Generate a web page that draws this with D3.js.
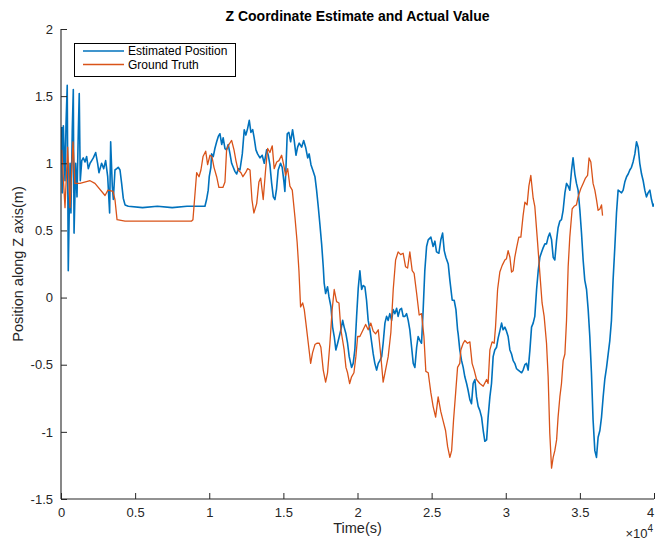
<!DOCTYPE html>
<html>
<head>
<meta charset="utf-8">
<script src="https://cdn.jsdelivr.net/npm/d3@7"></script>
<style>
  html, body { margin: 0; padding: 0; background: #fff; }
  svg { display: block; font-family: "Liberation Sans", Arial, Helvetica, sans-serif; }
</style>
</head>
<body>
<svg id="chart" width="655" height="542"></svg>
<script>
// ---- data (time in units of 10^4 s, position in m) ----
const titleText = "Z Coordinate Estimate and Actual Value";
const xLabel = "Time(s)";
const yLabel = "Position along Z axis(m)";
const seriesNames = ["Estimated Position", "Ground Truth"];
const xTicks = [0, 0.5, 1, 1.5, 2, 2.5, 3, 3.5, 4];
const yTicks = [-1.5, -1, -0.5, 0, 0.5, 1, 1.5, 2];
const xExponent = 4;

const estimated = [
[0.005,1.27],[0.009,0.78],[0.016,1.28],[0.027,0.87],[0.034,1.30],[0.042,1.58],[0.049,0.20],[0.061,1.00],
[0.067,0.63],[0.076,1.25],[0.083,1.55],[0.088,0.48],[0.099,1.00],[0.108,0.75],[0.117,1.25],[0.123,1.52],
[0.130,0.87],[0.140,1.02],[0.150,1.04],[0.162,1.01],[0.173,1.05],[0.184,0.96],[0.196,1.00],[0.207,1.02],
[0.218,1.04],[0.234,1.08],[0.247,1.00],[0.256,0.93],[0.274,1.00],[0.288,0.96],[0.301,1.02],[0.315,0.90],
[0.328,0.63],[0.335,1.16],[0.346,0.83],[0.353,0.73],[0.364,0.95],[0.376,0.96],[0.386,0.97],[0.398,0.95],
[0.409,0.85],[0.420,0.74],[0.432,0.69],[0.454,0.68],[0.55,0.67],[0.65,0.68],[0.75,0.67],[0.85,0.68],
[0.971,0.68],[0.982,0.73],[0.993,0.80],[1.000,0.90],[1.011,0.97],[1.016,1.07],[1.027,1.05],[1.038,1.11],
[1.050,1.16],[1.061,1.20],[1.072,1.22],[1.084,1.14],[1.094,1.19],[1.106,1.11],[1.117,1.10],[1.128,1.14],
[1.140,1.07],[1.151,1.00],[1.162,0.97],[1.173,0.94],[1.185,0.92],[1.196,0.96],[1.207,0.95],[1.223,1.07],
[1.236,1.25],[1.247,1.21],[1.259,1.26],[1.270,1.32],[1.281,1.23],[1.293,1.25],[1.303,1.19],[1.315,1.10],
[1.326,1.07],[1.342,1.04],[1.357,1.06],[1.371,1.00],[1.387,1.10],[1.398,1.06],[1.409,0.99],[1.421,0.85],
[1.432,0.75],[1.443,0.73],[1.454,0.81],[1.465,0.95],[1.481,1.00],[1.492,0.97],[1.504,0.86],[1.510,0.79],
[1.517,0.95],[1.526,1.22],[1.537,1.23],[1.549,1.16],[1.562,1.25],[1.573,1.17],[1.585,1.06],[1.596,1.12],
[1.607,1.15],[1.623,1.12],[1.637,1.17],[1.650,1.12],[1.664,1.04],[1.674,1.07],[1.686,0.99],[1.701,0.94],
[1.713,0.90],[1.724,0.80],[1.735,0.68],[1.746,0.55],[1.758,0.40],[1.769,0.23],[1.775,0.11],[1.785,0.03],
[1.798,0.08],[1.807,0.01],[1.821,-0.07],[1.832,-0.22],[1.843,-0.29],[1.854,-0.39],[1.866,-0.34],[1.877,-0.29],
[1.888,-0.24],[1.900,-0.17],[1.910,-0.22],[1.922,-0.27],[1.933,-0.34],[1.944,-0.44],[1.960,-0.52],[1.971,-0.49],
[1.982,-0.39],[1.994,-0.14],[2.005,0.07],[2.016,0.20],[2.028,0.06],[2.038,0.09],[2.050,0.08],[2.061,-0.02],
[2.072,-0.17],[2.084,-0.24],[2.095,-0.33],[2.106,-0.42],[2.117,-0.49],[2.129,-0.54],[2.140,-0.49],[2.151,-0.47],
[2.163,-0.44],[2.173,-0.34],[2.185,-0.19],[2.196,-0.14],[2.207,-0.17],[2.218,-0.12],[2.230,-0.17],[2.241,-0.09],
[2.252,-0.12],[2.264,-0.08],[2.274,-0.14],[2.286,-0.09],[2.297,-0.08],[2.308,-0.14],[2.320,-0.14],[2.331,-0.12],
[2.342,-0.17],[2.353,-0.24],[2.365,-0.37],[2.376,-0.49],[2.387,-0.52],[2.399,-0.37],[2.409,-0.29],[2.421,-0.32],
[2.432,-0.34],[2.443,-0.09],[2.454,0.20],[2.466,0.38],[2.477,0.43],[2.495,0.45],[2.510,0.38],[2.522,0.42],
[2.533,0.34],[2.549,0.33],[2.562,0.43],[2.574,0.48],[2.585,0.35],[2.596,0.30],[2.612,0.25],[2.623,0.13],
[2.639,-0.02],[2.652,-0.02],[2.664,-0.09],[2.675,-0.24],[2.679,-0.27],[2.690,-0.39],[2.702,-0.47],[2.713,-0.52],
[2.724,-0.59],[2.736,-0.64],[2.746,-0.69],[2.758,-0.76],[2.769,-0.79],[2.780,-0.64],[2.792,-0.61],[2.803,-0.74],
[2.814,-0.81],[2.825,-0.84],[2.837,-0.89],[2.848,-0.99],[2.859,-1.07],[2.871,-1.06],[2.881,-0.89],[2.893,-0.74],
[2.904,-0.64],[2.915,-0.44],[2.926,-0.39],[2.938,-0.37],[2.949,-0.30],[2.960,-0.25],[2.972,-0.19],[2.982,-0.24],
[2.994,-0.22],[3.005,-0.25],[3.016,-0.29],[3.028,-0.39],[3.039,-0.42],[3.050,-0.47],[3.061,-0.49],[3.073,-0.53],
[3.084,-0.54],[3.095,-0.55],[3.107,-0.56],[3.117,-0.54],[3.129,-0.50],[3.140,-0.49],[3.151,-0.54],[3.163,-0.39],
[3.174,-0.22],[3.185,-0.19],[3.196,-0.14],[3.208,0.06],[3.219,0.20],[3.230,0.30],[3.242,0.34],[3.252,0.37],
[3.264,0.40],[3.275,0.40],[3.286,0.45],[3.297,0.48],[3.309,0.43],[3.320,0.30],[3.331,0.28],[3.343,0.43],
[3.353,0.52],[3.365,0.57],[3.376,0.58],[3.387,0.65],[3.399,0.78],[3.410,0.85],[3.421,0.83],[3.432,0.80],
[3.444,0.95],[3.454,1.04],[3.466,0.92],[3.477,0.85],[3.488,0.80],[3.500,0.65],[3.511,0.48],[3.522,0.28],
[3.533,0.13],[3.545,0.06],[3.556,-0.09],[3.567,-0.29],[3.578,-0.56],[3.589,-0.91],[3.601,-1.14],[3.612,-1.19],
[3.623,-1.04],[3.635,-0.99],[3.646,-0.89],[3.657,-0.74],[3.668,-0.61],[3.680,-0.52],[3.691,-0.42],[3.702,-0.32],
[3.713,-0.17],[3.724,0.13],[3.736,0.38],[3.747,0.63],[3.758,0.80],[3.769,0.79],[3.781,0.78],[3.792,0.80],
[3.803,0.86],[3.815,0.90],[3.826,0.92],[3.837,0.95],[3.848,0.97],[3.859,1.01],[3.871,1.07],[3.882,1.16],
[3.893,1.12],[3.904,1.00],[3.916,0.92],[3.927,0.87],[3.938,0.80],[3.949,0.75],[3.960,0.78],[3.972,0.80],
[3.983,0.73],[3.994,0.68],[3.999,0.70]
];

const groundTruth = [
[0.005,1.10],[0.027,0.67],[0.045,1.12],[0.061,0.67],[0.081,1.16],[0.094,0.85],[0.106,0.85],[0.128,0.85],
[0.196,0.87],[0.229,0.85],[0.297,0.76],[0.317,0.80],[0.351,0.79],[0.364,0.73],[0.378,0.58],[0.432,0.57],
[0.55,0.57],[0.70,0.57],[0.881,0.57],[0.890,0.58],[0.915,0.93],[0.931,0.90],[0.944,0.95],[0.958,1.05],
[0.976,1.09],[0.989,0.99],[1.005,1.06],[1.018,1.05],[1.032,0.97],[1.050,0.90],[1.065,0.82],[1.092,0.82],
[1.106,0.86],[1.117,1.10],[1.133,1.14],[1.151,1.17],[1.167,1.10],[1.180,1.02],[1.194,0.95],[1.214,0.93],
[1.227,0.90],[1.245,0.93],[1.259,0.96],[1.275,0.95],[1.288,0.73],[1.301,0.63],[1.320,0.70],[1.335,0.86],
[1.347,0.89],[1.364,0.73],[1.380,0.95],[1.394,1.11],[1.409,1.08],[1.425,1.13],[1.438,0.96],[1.455,1.01],
[1.470,1.02],[1.488,1.06],[1.502,0.99],[1.515,0.91],[1.529,0.96],[1.544,0.83],[1.560,0.80],[1.578,0.60],
[1.593,0.41],[1.605,0.20],[1.616,-0.07],[1.630,-0.04],[1.641,-0.09],[1.652,-0.19],[1.668,-0.34],[1.684,-0.49],
[1.697,-0.41],[1.713,-0.35],[1.726,-0.34],[1.742,-0.34],[1.753,-0.37],[1.769,-0.54],[1.785,-0.63],[1.798,-0.56],
[1.814,-0.34],[1.829,-0.09],[1.843,0.06],[1.859,-0.03],[1.875,-0.04],[1.888,-0.24],[1.900,-0.32],[1.910,-0.39],
[1.922,-0.52],[1.933,-0.56],[1.947,-0.64],[1.960,-0.59],[1.976,-0.56],[1.989,-0.44],[2.001,-0.29],[2.016,-0.29],
[2.038,-0.24],[2.055,-0.20],[2.072,-0.24],[2.090,-0.19],[2.106,-0.25],[2.122,-0.27],[2.140,-0.24],[2.156,-0.42],
[2.173,-0.63],[2.189,-0.54],[2.207,-0.44],[2.225,-0.26],[2.241,0.06],[2.257,0.28],[2.274,0.34],[2.291,0.32],
[2.308,0.33],[2.324,0.23],[2.338,0.22],[2.353,0.34],[2.369,0.20],[2.382,0.18],[2.399,0.03],[2.416,-0.13],
[2.432,-0.12],[2.448,-0.29],[2.461,-0.55],[2.477,-0.56],[2.495,-0.71],[2.510,-0.81],[2.527,-0.89],[2.544,-0.74],
[2.562,-0.85],[2.578,-0.92],[2.594,-0.99],[2.608,-1.11],[2.623,-1.19],[2.635,-1.14],[2.648,-0.91],[2.662,-0.71],
[2.675,-0.52],[2.690,-0.49],[2.697,-0.39],[2.713,-0.34],[2.724,-0.32],[2.742,-0.34],[2.758,-0.33],[2.773,-0.49],
[2.787,-0.54],[2.803,-0.61],[2.825,-0.64],[2.848,-0.66],[2.871,-0.61],[2.881,-0.64],[2.893,-0.39],[2.908,-0.33],
[2.922,-0.34],[2.931,-0.22],[2.945,0.06],[2.960,0.19],[2.976,0.24],[2.994,0.28],[3.005,0.29],[3.016,0.35],
[3.028,0.30],[3.039,0.19],[3.050,0.20],[3.061,0.30],[3.073,0.37],[3.088,0.45],[3.102,0.45],[3.117,0.61],
[3.129,0.71],[3.144,0.69],[3.156,0.83],[3.169,0.91],[3.185,0.74],[3.196,0.68],[3.212,0.45],[3.230,0.18],
[3.245,-0.04],[3.259,-0.14],[3.275,-0.34],[3.286,-0.59],[3.297,-1.01],[3.309,-1.27],[3.320,-1.19],[3.331,-1.14],
[3.343,-1.06],[3.353,-0.89],[3.365,-0.74],[3.376,-0.64],[3.387,-0.47],[3.399,-0.42],[3.410,-0.17],[3.421,0.23],
[3.432,0.45],[3.448,0.66],[3.461,0.68],[3.477,0.69],[3.488,0.75],[3.506,0.81],[3.522,0.85],[3.538,0.89],
[3.552,0.91],[3.562,1.04],[3.574,1.01],[3.589,0.85],[3.601,0.80],[3.612,0.73],[3.623,0.65],[3.635,0.66],
[3.646,0.69],[3.653,0.61]
];

const colors = ["#0072BD", "#D95319"];

// ---- layout ----
const svg = d3.select("#chart");
const W = 655, H = 542;
const m = { left: 61, top: 29, right: 1, bottom: 43 };
const pw = W - m.left - m.right, ph = H - m.top - m.bottom;
const axisColor = "#262626";

const x = d3.scaleLinear().domain([0, 4]).range([m.left, m.left + pw]);
const y = d3.scaleLinear().domain([-1.5, 2]).range([m.top + ph, m.top]);

svg.append("defs").append("clipPath").attr("id", "clip")
  .append("rect").attr("x", m.left).attr("y", m.top).attr("width", pw).attr("height", ph);

const line = d3.line().x(d => x(d[0])).y(d => y(d[1]));
const plot = svg.append("g").attr("clip-path", "url(#clip)");
plot.append("path").datum(estimated)
  .attr("fill", "none").attr("stroke", colors[0]).attr("stroke-width", 1.6)
  .attr("stroke-linejoin", "round").attr("d", line);
plot.append("path").datum(groundTruth)
  .attr("fill", "none").attr("stroke", colors[1]).attr("stroke-width", 1.3)
  .attr("stroke-linejoin", "round").attr("d", line);

// ---- axes (ticks inside, MATLAB style) ----
const fmt = d => String(d);
const xAxis = d3.axisBottom(x).tickValues(xTicks).tickSize(-6).tickPadding(9).tickFormat(fmt);
const yAxis = d3.axisLeft(y).tickValues(yTicks).tickSize(-6).tickPadding(8).tickFormat(fmt);

const gx = svg.append("g").attr("transform", `translate(0,${m.top + ph})`).call(xAxis);
const gy = svg.append("g").attr("transform", `translate(${m.left},0)`).call(yAxis);
[gx, gy].forEach(g => {
  g.select(".domain").attr("stroke", axisColor).attr("stroke-width", 1.1).attr("d",
    g === gx ? `M${m.left},0H${m.left + pw}` : `M0,${m.top + ph}V${m.top}`);
  g.selectAll(".tick line").attr("stroke", axisColor).attr("stroke-width", 1);
  g.selectAll(".tick text").attr("fill", axisColor).style("font-size", "13px")
    .style("font-family", '"Liberation Sans", Arial, sans-serif');
});
// keep the last x tick label inside the window
gx.selectAll(".tick text").filter(d => d === 4).attr("dx", -4);

// exponent label
const ex = svg.append("text").attr("x", 653).attr("y", 538).attr("text-anchor", "end")
  .attr("fill", axisColor).style("font-size", "13px");
ex.append("tspan").text("\u00d710");
ex.append("tspan").attr("dy", -6).style("font-size", "10px").text(String(xExponent));

// ---- labels ----
svg.append("text").attr("x", m.left + pw / 2).attr("y", 21).attr("text-anchor", "middle")
  .style("font-size", "14px").style("font-weight", "bold").attr("fill", "#000").text(titleText);
svg.append("text").attr("x", m.left + pw / 2).attr("y", 533).attr("text-anchor", "middle")
  .style("font-size", "14.5px").attr("fill", axisColor).text(xLabel);
svg.append("text").attr("transform", `translate(23,${m.top + ph / 2}) rotate(-90)`)
  .attr("text-anchor", "middle").style("font-size", "14.5px").attr("fill", axisColor).text(yLabel);

// ---- legend ----
const lg = svg.append("g");
lg.append("rect").attr("x", 74.5).attr("y", 43.5).attr("width", 161).attr("height", 33)
  .attr("fill", "#fff").attr("stroke", "#000").attr("stroke-width", 1);
seriesNames.forEach((name, i) => {
  const yy = 51 + i * 13.5;
  lg.append("line").attr("x1", 83).attr("x2", 124).attr("y1", yy).attr("y2", yy)
    .attr("stroke", colors[i]).attr("stroke-width", 1.3);
  lg.append("text").attr("x", 128).attr("y", yy + 4.3).style("font-size", "12px")
    .attr("fill", "#000").text(name);
});
</script>
</body>
</html>
